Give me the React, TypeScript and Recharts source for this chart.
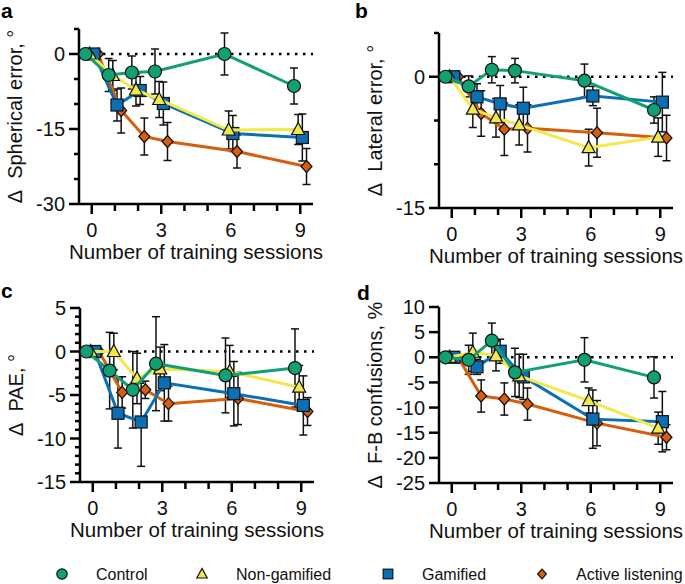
import React from 'react';
import { ComposedChart, Scatter, XAxis, YAxis, ErrorBar, ReferenceLine, Label } from 'recharts';

const FONT = '"Liberation Sans", Arial, Helvetica, sans-serif';

const sessions = [0, 1, 2, 3, 6, 9];
const groups = ['Control', 'Non-gamified', 'Gamified', 'Active listening'];
const groupColors = ['#10A074', '#F3E84A', '#0A6FB3', '#D65E0C'];
const groupOffsets = [-0.27, -0.09, 0.09, 0.27];
const xTicks = [0, 1, 2, 3, 4, 5, 6, 7, 8, 9];
const xLabels = [0, 3, 6, 9];

// a: spherical error
const sphControl = [0, -4.2, -3.7, -3.5, 0, -6.4];
const sphControlErr = [0, 3.3, 3.3, 4.5, 4.2, 3.6];
const sphNonGam = [0, -4.3, -7.2, -9.1, -15.2, -15.1];
const sphNonGamErr = [0, 3.0, 3.2, 3.6, 3.8, 3.0];
const sphGam = [0, -10.2, -7.3, -9.9, -15.9, -16.7];
const sphGamErr = [0, 3.2, 2.8, 4.3, 3.6, 4.7];
const sphActive = [0, -11.3, -16.5, -17.5, -19.5, -22.5];
const sphActiveErr = [0, 4.5, 3.7, 3.8, 3.3, 3.6];

// b: lateral error
const latControl = [0, -1.1, 0.8, 0.7, -0.45, -3.8];
const latControlErr = [0, 1.2, 1.5, 1.4, 1.9, 1.5];
const latNonGam = [0, -3.7, -4.7, -5.5, -8.1, -6.9];
const latNonGamErr = [0, 2.1, 2.2, 2.3, 2.1, 2.2];
const latGam = [0, -2.3, -3.1, -3.6, -2.2, -2.9];
const latGamErr = [0, 1.5, 2.1, 2.4, 1.1, 3.4];
const latActive = [0, -4.2, -6.0, -5.9, -6.4, -7.0];
const latActiveErr = [0, 2.6, 3.0, 2.7, 2.8, 2.6];

// c: PAE
const paeControl = [0, -2.2, -4.4, -1.4, -2.75, -1.9];
const paeControlErr = [0, 4.4, 4.4, 5.4, 4.3, 4.5];
const paeNonGam = [0, 0, -3.1, -2.0, -2.3, -4.1];
const paeNonGamErr = [0, 2.1, 2.9, 2.5, 3.0, 2.5];
const paeGam = [0, -7.1, -8.1, -3.6, -4.85, -6.2];
const paeGamErr = [0, 4.0, 5.1, 4.4, 3.7, 3.4];
const paeActive = [0, -4.7, -4.4, -6.0, -5.4, -6.9];
const paeActiveErr = [0, 1.8, 1.0, 2.0, 3.0, 1.6];

// d: front-back confusions
const fbControl = [0, -0.5, 3.3, -3.0, -0.5, -4.0];
const fbControlErr = [0, 2.9, 3.5, 4.8, 4.4, 4.1];
const fbNonGam = [0, 1.0, 0.3, -3.7, -8.6, -14.1];
const fbNonGamErr = [0, 3.8, 3.0, 4.3, 2.5, 3.2];
const fbGam = [0, -1.9, 1.2, -3.9, -12.3, -12.8];
const fbGamErr = [0, 1.5, 2.4, 4.5, 5.8, 6.0];
const fbActive = [0, -7.7, -8.3, -9.3, -13.1, -15.9];
const fbActiveErr = [0, 3.2, 3.2, 3.2, 4.5, 2.5];

const toPoints = (means: number[], errs: number[], g: number) =>
  sessions.map((s, i) => ({ x: s + groupOffsets[g], y: means[i], e: errs[i] }));

function Marker({ cx, cy, g, s = 1 }: { cx: number; cy: number; g: number; s?: number }) {
  const common = { fill: groupColors[g], stroke: '#111', strokeWidth: 1.2 };
  if (g === 0) return <circle cx={cx} cy={cy} r={6.5 * s} {...common} />;
  if (g === 1)
    return (
      <polygon
        points={`${cx},${cy - 7 * s} ${cx + 6.5 * s},${cy + 5 * s} ${cx - 6.5 * s},${cy + 5 * s}`}
        {...common}
      />
    );
  if (g === 2) return <rect x={cx - 6 * s} y={cy - 6 * s} width={12 * s} height={12 * s} {...common} />;
  return (
    <polygon
      points={`${cx},${cy - 6 * s} ${cx + 5.5 * s},${cy} ${cx},${cy + 6 * s} ${cx - 5.5 * s},${cy}`}
      {...common}
    />
  );
}

const makeYTick = (labels: number[]) => (props: any) => {
  const { x, y, payload } = props;
  const major = labels.includes(payload.value);
  const len = major ? 10 : 5;
  return (
    <g>
      <line x1={x - len} x2={x} y1={y} y2={y} stroke="#000" strokeWidth={2.5} />
      {major && (
        <text x={x - 14} y={y} dy="0.36em" textAnchor="end" fontSize={20} fontFamily={FONT} fill="#111">
          {payload.value}
        </text>
      )}
    </g>
  );
};

const xTick = (props: any) => {
  const { x, y, payload } = props;
  const major = xLabels.includes(payload.value);
  return (
    <g>
      <line x1={x} x2={x} y1={y} y2={y + (major ? 10 : 7)} stroke="#000" strokeWidth={2.5} />
      {major && (
        <text x={x} y={y + 33} textAnchor="middle" fontSize={20} fontFamily={FONT} fill="#111">
          {payload.value}
        </text>
      )}
    </g>
  );
};

type PanelProps = {
  left: number;
  top: number;
  width: number;
  height: number;
  marginTop: number;
  yWidth: number;
  plotH: number;
  domain: [number, number];
  yTicks: number[];
  yLabels: number[];
  title: string;
  series: { means: number[]; errs: number[] }[];
};

function Panel(p: PanelProps) {
  const order = [3, 2, 1, 0];
  return (
    <div style={{ position: 'absolute', left: p.left, top: p.top }}>
      <ComposedChart
        width={p.width}
        height={p.height}
        margin={{ top: p.marginTop, right: p.width - p.yWidth - 234, left: 0, bottom: 0 }}
      >
        <XAxis
          type="number"
          dataKey="x"
          domain={[-0.55, 9.55]}
          ticks={xTicks}
          interval={0}
          allowDataOverflow
          height={p.height - p.marginTop - p.plotH}
          axisLine={{ stroke: '#000', strokeWidth: 2.5 }}
          tickLine={false}
          tickSize={0}
          tickMargin={0}
          tick={xTick}
        >
          <Label
            content={(lp: any) => {
              const vb = lp.viewBox || {};
              return (
                <text x={vb.x + vb.width / 2} y={vb.y + 55} textAnchor="middle" fontSize={20.5} fontFamily={FONT} fill="#111">
                  Number of training sessions
                </text>
              );
            }}
          />
        </XAxis>
        <YAxis
          type="number"
          dataKey="y"
          domain={p.domain}
          ticks={p.yTicks}
          interval={0}
          allowDataOverflow
          width={p.yWidth}
          axisLine={{ stroke: '#000', strokeWidth: 2.5 }}
          tickLine={false}
          tickSize={0}
          tickMargin={0}
          tick={makeYTick(p.yLabels)}
        >
          <Label
            content={(lp: any) => {
              const vb = lp.viewBox || {};
              const cx = vb.x + vb.width - 57;
              const cy = vb.y + vb.height / 2;
              return (
                <text
                  x={cx}
                  y={cy}
                  transform={`rotate(-90, ${cx}, ${cy})`}
                  textAnchor="middle"
                  fontSize={20}
                  fontFamily={FONT}
                  fill="#111"
                  style={{ whiteSpace: 'pre' }}
                >
                  {p.title}
                </text>
              );
            }}
          />
        </YAxis>
        <ReferenceLine y={0} stroke="#000" strokeWidth={2.5} strokeDasharray="2.5 5.5" />
        {order.map((g) => (
          <Scatter
            key={g}
            name={groups[g]}
            data={toPoints(p.series[g].means, p.series[g].errs, g)}
            line={{ stroke: groupColors[g], strokeWidth: 3 }}
            lineType="joint"
            shape={(sp: any) => <Marker cx={sp.cx} cy={sp.cy} g={g} />}
            isAnimationActive={false}
          >
            <ErrorBar dataKey="e" direction="y" width={4} stroke="#111" strokeWidth={1.5} />
          </Scatter>
        ))}
      </ComposedChart>
    </div>
  );
}

export default function App() {
  const legendX = [62, 202, 388, 542];
  return (
    <div style={{ position: 'absolute', left: 0, top: 0, width: 685, height: 584, background: '#fff' }}>
      <Panel
        left={0}
        top={0}
        width={330}
        height={270}
        marginTop={29}
        yWidth={79}
        plotH={175}
        domain={[-30, 5]}
        yTicks={[5, 0, -5, -10, -15, -20, -25, -30]}
        yLabels={[0, -15, -30]}
        title={'\u0394\u00A0 Spherical error, \u00B0'}
        series={[
          { means: sphControl, errs: sphControlErr },
          { means: sphNonGam, errs: sphNonGamErr },
          { means: sphGam, errs: sphGamErr },
          { means: sphActive, errs: sphActiveErr },
        ]}
      />
      <Panel
        left={340}
        top={0}
        width={345}
        height={270}
        marginTop={33}
        yWidth={99}
        plotH={175}
        domain={[-15, 5]}
        yTicks={[5, 0, -5, -10, -15]}
        yLabels={[0, -15]}
        title={'\u0394\u00A0 Lateral error, \u00B0'}
        series={[
          { means: latControl, errs: latControlErr },
          { means: latNonGam, errs: latNonGamErr },
          { means: latGam, errs: latGamErr },
          { means: latActive, errs: latActiveErr },
        ]}
      />
      <Panel
        left={0}
        top={280}
        width={330}
        height={270}
        marginTop={28}
        yWidth={80}
        plotH={174}
        domain={[-15, 5]}
        yTicks={[5, 4, 3, 2, 1, 0, -1, -2, -3, -4, -5, -6, -7, -8, -9, -10, -11, -12, -13, -14, -15]}
        yLabels={[5, 0, -5, -10, -15]}
        title={'\u0394\u00A0 PAE, \u00B0'}
        series={[
          { means: paeControl, errs: paeControlErr },
          { means: paeNonGam, errs: paeNonGamErr },
          { means: paeGam, errs: paeGamErr },
          { means: paeActive, errs: paeActiveErr },
        ]}
      />
      <Panel
        left={340}
        top={280}
        width={345}
        height={270}
        marginTop={27}
        yWidth={99}
        plotH={176}
        domain={[-25, 10]}
        yTicks={[10, 5, 0, -5, -10, -15, -20, -25]}
        yLabels={[10, 5, 0, -5, -10, -15, -20, -25]}
        title={'\u0394\u00A0 F-B confusions, %'}
        series={[
          { means: fbControl, errs: fbControlErr },
          { means: fbNonGam, errs: fbNonGamErr },
          { means: fbGam, errs: fbGamErr },
          { means: fbActive, errs: fbActiveErr },
        ]}
      />
      <svg width={685} height={584} style={{ position: 'absolute', left: 0, top: 0, pointerEvents: 'none' }}>
        <g fontFamily={FONT} fontWeight="bold" fontSize={21} fill="#000">
          <text x={1} y={18}>a</text>
          <text x={355} y={18}>b</text>
          <text x={1} y={298}>c</text>
          <text x={357} y={300}>d</text>
        </g>
        {groups.map((name, g) => (
          <g key={name}>
            <Marker cx={legendX[g]} cy={574} g={g} s={0.8} />
            <text x={legendX[g] + 34} y={574} dy="0.36em" fontSize={16} fontFamily={FONT} fill="#111">
              {name}
            </text>
          </g>
        ))}
      </svg>
    </div>
  );
}
